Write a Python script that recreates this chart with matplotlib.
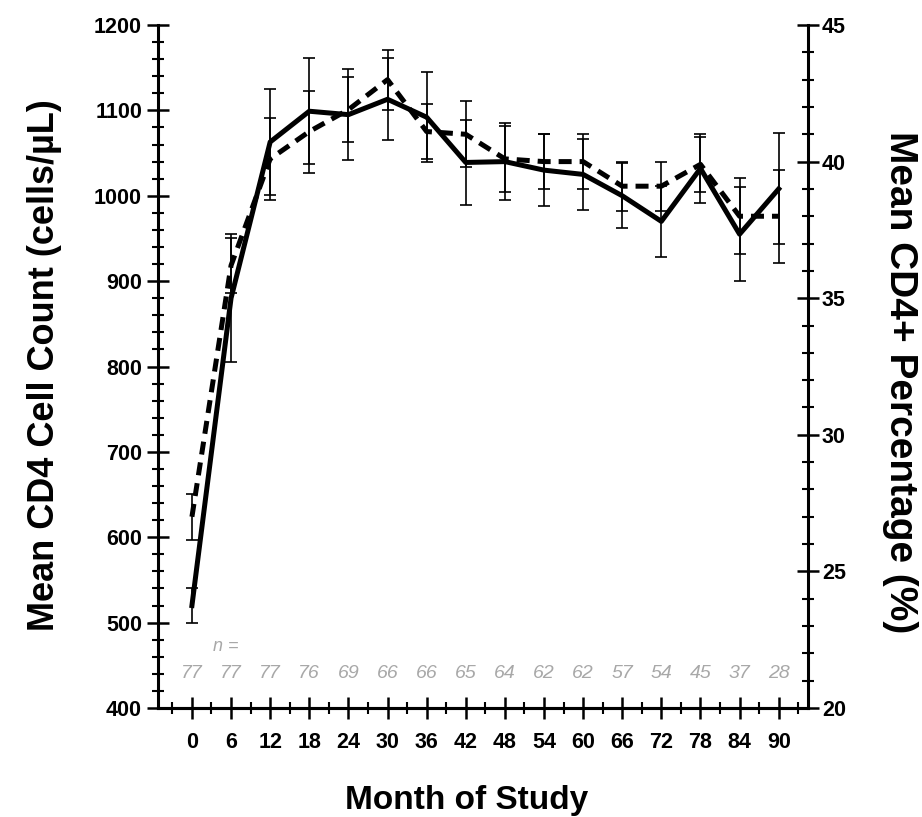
import matplotlib
matplotlib.use('Agg')
from matplotlib import pyplot as plt
from matplotlib.ticker import MultipleLocator

plt.rcParams['font.family'] = ['Liberation Sans', 'DejaVu Sans']

# 数据：月份、CD4计数（实线，左轴）、CD4百分比（虚线，右轴）
months = [0, 6, 12, 18, 24, 30, 36, 42, 48, 54, 60, 66, 72, 78, 84, 90]
cd4_count = [520, 880, 1063, 1099, 1095, 1113, 1092, 1039, 1040, 1030, 1025, 1000, 970, 1032, 955, 1008]
cd4_count_err = [20, 75, 62, 62, 53, 48, 53, 50, 45, 42, 42, 38, 42, 40, 55, 65]
cd4_pct = [27.0, 36.2, 40.1, 41.1, 41.9, 43.0, 41.1, 41.0, 40.1, 40.0, 40.0, 39.1, 39.1, 39.9, 38.0, 38.0]
cd4_pct_err = [0.84, 1.0, 1.5, 1.5, 1.2, 1.1, 1.0, 1.2, 1.2, 1.0, 1.0, 0.9, 0.9, 1.0, 1.4, 1.7]
n_list = [77, 77, 77, 76, 69, 66, 66, 65, 64, 62, 62, 57, 54, 45, 37, 28]

fig = plt.figure(figsize=(9.22, 8.17), dpi=100)
ax = fig.add_axes([0.1714, 0.1334, 0.705, 0.836])
ax2 = ax.twinx()

# 实线：CD4计数
ax.errorbar(months, cd4_count, yerr=cd4_count_err, color='black', lw=3.6,
            elinewidth=1.2, capsize=4.5, capthick=1.2, zorder=3)
# 虚线：CD4百分比
ax2.errorbar(months, cd4_pct, yerr=cd4_pct_err, color='black', lw=3.6,
             linestyle=(0, (2.6, 1.6)), elinewidth=1.2, capsize=4.5,
             capthick=1.2, zorder=3)

ax.set_xlim(-5.2, 94.5)
ax.set_ylim(400, 1200)
ax2.set_ylim(20, 45)

ax.xaxis.set_minor_locator(MultipleLocator(3))
ax.set_xticks(months)
ax.yaxis.set_major_locator(MultipleLocator(100))
ax.yaxis.set_minor_locator(MultipleLocator(20))
ax2.yaxis.set_major_locator(MultipleLocator(5))
ax2.yaxis.set_minor_locator(MultipleLocator(1))

for a in (ax, ax2):
    for s in a.spines.values():
        s.set_linewidth(2.2)
    a.spines['top'].set_visible(False)
ax.spines['right'].set_visible(False)
ax2.spines['left'].set_visible(False)

ax.tick_params(axis='both', which='major', direction='inout', length=16, width=1.8,
               labelsize=15.5)
ax.tick_params(axis='x', which='major', pad=9)
ax.tick_params(axis='both', which='minor', direction='inout', length=9, width=1.5)
ax2.tick_params(axis='y', which='major', direction='inout', length=16, width=1.8,
                labelsize=15.5, pad=2)
ax2.tick_params(axis='y', which='minor', direction='inout', length=9, width=1.5)
for lab in ax.get_xticklabels() + ax.get_yticklabels() + ax2.get_yticklabels():
    lab.set_fontweight('bold')

ax.set_xlabel('Month of Study', fontsize=24, fontweight='bold', va='center')
ax.xaxis.set_label_coords(0.474, -0.135)
ax.set_ylabel('Mean CD4 Cell Count (cells/µL)', fontsize=26, fontweight='bold', va='center')
ax.yaxis.set_label_coords(-0.175, 0.502)
ax2.set_ylabel('Mean CD4+ Percentage (%)', fontsize=28, fontweight='bold',
               rotation=270, va='center')
ax2.yaxis.set_label_coords(1.142, 0.477)

# 样本量
ax.text(5.2, 472, 'n =', color='#a8a8a8', fontsize=13, style='italic',
        ha='center', va='center')
for m, n in zip(months, n_list):
    ax.text(m, 441, str(n), color='#a8a8a8', fontsize=14, style='italic',
            ha='center', va='center')

fig.savefig('out.png', dpi=100)
